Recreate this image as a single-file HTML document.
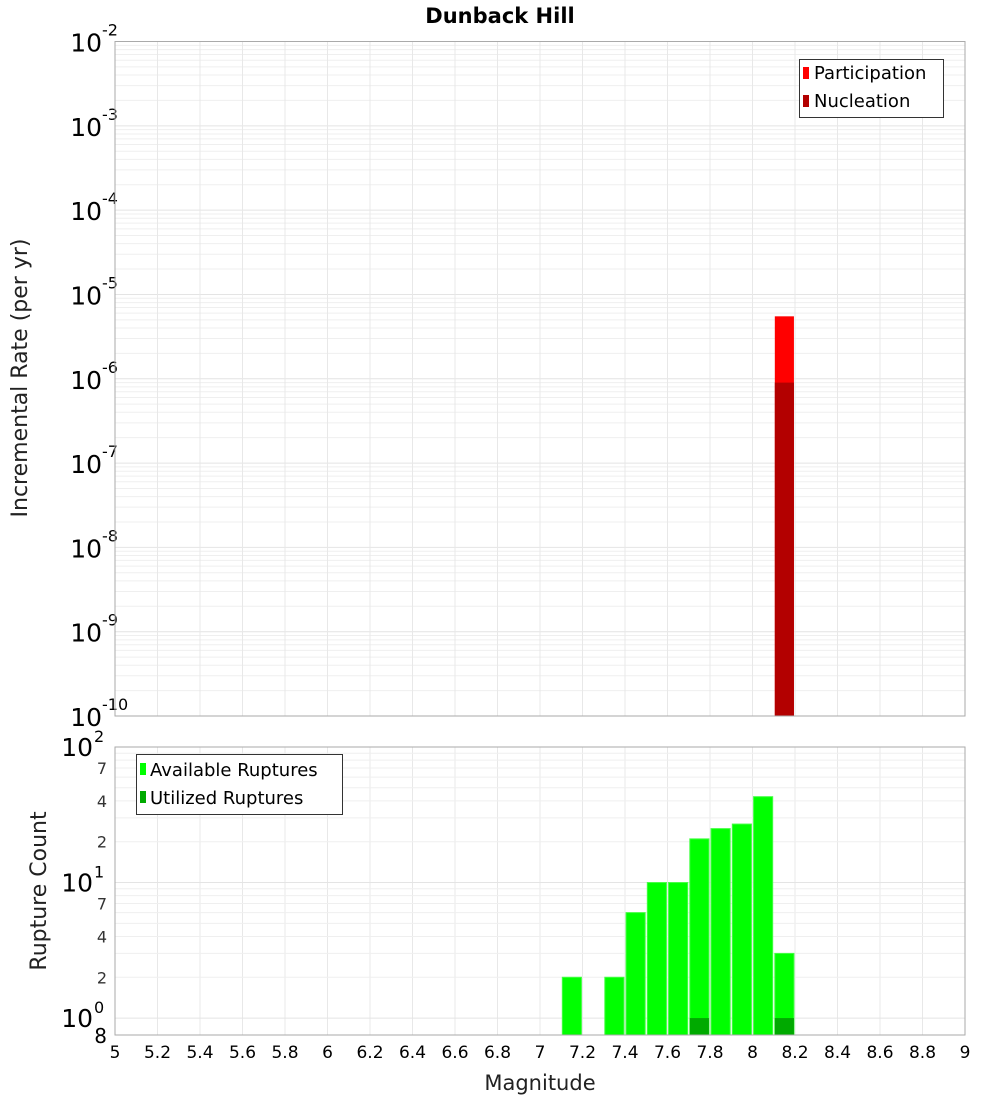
<!DOCTYPE html>
<html><head><meta charset="utf-8"><style>
body{margin:0;background:#fff;}
svg{display:block;font-family:"Liberation Sans","DejaVu Sans",sans-serif;}
</style></head><body>
<svg id="c" width="1000" height="1100" xmlns="http://www.w3.org/2000/svg">
<rect width="1000" height="1100" fill="#fff"/>
<text x="500" y="23" text-anchor="middle" font-size="21" font-weight="bold" font-family="DejaVu Sans, sans-serif">Dunback Hill</text>
<g id="topG"></g>
<g id="botG"></g>
<text transform="translate(27,378) rotate(-90)" text-anchor="middle" font-size="22" font-family="DejaVu Sans, sans-serif" fill="#222">Incremental Rate (per yr)</text>
<text transform="translate(46,891) rotate(-90)" text-anchor="middle" font-size="22" font-family="DejaVu Sans, sans-serif" fill="#222">Rupture Count</text>
<text x="540" y="1090" text-anchor="middle" font-size="21" font-family="DejaVu Sans, sans-serif" fill="#222">Magnitude</text>
<g id="legends">
<g>
<rect x="799.5" y="59.5" width="144" height="58" fill="#fff" stroke="#333"/>
<rect x="803" y="67" width="6" height="12" fill="#ff0000"/>
<text x="814" y="79" font-size="18" font-family="DejaVu Sans, sans-serif">Participation</text>
<rect x="803" y="95" width="6" height="12" fill="#b30000"/>
<text x="814" y="107" font-size="18" font-family="DejaVu Sans, sans-serif">Nucleation</text>
</g>
<g>
<rect x="136.5" y="754.5" width="206" height="60" fill="#fff" stroke="#333"/>
<rect x="140" y="763" width="6" height="12" fill="#00ff00"/>
<text x="150" y="776" font-size="18" font-family="DejaVu Sans, sans-serif">Available Ruptures</text>
<rect x="140" y="791" width="6" height="12" fill="#00aa00"/>
<text x="150" y="804" font-size="18" font-family="DejaVu Sans, sans-serif">Utilized Ruptures</text>
</g>
</g>
</svg>
<script>
const rateMags=[8.15];
const participation=[5.5e-6];
const nucleation=[9e-7];
const countMags=[7.15,7.35,7.45,7.55,7.65,7.75,7.85,7.95,8.05,8.15];
const available=[2,2,6,10,10,21,25,27,43,3];
const utilizedMags=[7.75,8.15];
const utilized=[1,1];
const xTicks=["5","5.2","5.4","5.6","5.8","6","6.2","6.4","6.6","6.8","7","7.2","7.4","7.6","7.8","8","8.2","8.4","8.6","8.8","9"];
const rateExps=[-2,-3,-4,-5,-6,-7,-8,-9,-10];
const countMinor=[2,4,7];

const NS="http://www.w3.org/2000/svg";
const L=115,R=965;
const x=m=>L+(m-5)/4*(R-L);
const T1=41.5,B1=716;
const y1=v=>T1+(-2-Math.log10(v))/8*(B1-T1);
const T2=747,B2=1035,cMax=100,cMin=0.75;
const y2=v=>T2+(Math.log10(cMax)-Math.log10(v))/(Math.log10(cMax)-Math.log10(cMin))*(B2-T2);
function mk(p,tag,a){const e=document.createElementNS(NS,tag);for(const k in a)e.setAttribute(k,a[k]);p.appendChild(e);return e;}
const topG=document.getElementById('topG'),botG=document.getElementById('botG');

for(let e=-10;e<-2;e++){for(let k=2;k<=9;k++){const yy=y1(k*Math.pow(10,e));
const g=mk(topG,'line',{x1:L,x2:R,y1:yy,y2:yy,stroke:'#efefef','stroke-width':1});

}}
rateExps.forEach(e=>{const yy=y1(Math.pow(10,e));
const g=mk(topG,'line',{x1:L,x2:R,y1:yy,y2:yy,stroke:'#e4e4e4'});


const t=mk(topG,'text',{x:L-13,y:yy+10,'text-anchor':'end','font-size':25,'font-family':'DejaVu Sans, sans-serif'});


t.textContent='10';
const s=mk(topG,'text',{x:L-13,y:yy-6,'font-size':16,'font-family':'DejaVu Sans, sans-serif'});


s.textContent=String(e);});
xTicks.forEach(t=>{const xx=x(parseFloat(t));
const g=mk(topG,'line',{x1:xx,x2:xx,y1:T1,y2:B1,stroke:'#e8e8e8'});


const g2=mk(botG,'line',{x1:xx,x2:xx,y1:T2,y2:B2,stroke:'#e8e8e8'});


const tl=mk(botG,'text',{x:xx,y:1058,'text-anchor':'middle','font-size':17,'font-family':'DejaVu Sans, sans-serif'});


tl.textContent=t;});
const bw=0.09;
rateMags.forEach((m,i)=>{
const b=mk(topG,'rect',{x:x(m-bw/2),y:y1(participation[i]),width:x(m+bw/2)-x(m-bw/2),height:B1-y1(participation[i]),fill:'#ff0000'});


const n=mk(topG,'rect',{x:x(m-bw/2),y:y1(nucleation[i]),width:x(m+bw/2)-x(m-bw/2),height:B1-y1(nucleation[i]),fill:'#b30000'});

});
mk(topG,'rect',{x:L,y:T1,width:R-L,height:B1-T1,fill:'none',stroke:'#aaa'});

[1,10].forEach(d=>{for(let k=2;k<=9;k++){const yy=y2(k*d);
const g=mk(botG,'line',{x1:L,x2:R,y1:yy,y2:yy,stroke:'#efefef'});

}
countMinor.forEach(k=>{const t=mk(botG,'text',{x:107,y:y2(k*d)+6,'text-anchor':'end','font-size':16,fill:'#333','font-family':'DejaVu Sans, sans-serif'});


t.textContent=String(k);});});
[[100,'2'],[10,'1'],[1,'0']].forEach(([v,e])=>{const yy=y2(v);
const g=mk(botG,'line',{x1:L,x2:R,y1:yy,y2:yy,stroke:'#e4e4e4'});


const t=mk(botG,'text',{x:L-22,y:yy+9,'text-anchor':'end','font-size':25,'font-family':'DejaVu Sans, sans-serif'});


t.textContent='10';
const s=mk(botG,'text',{x:L-21,y:yy-5,'font-size':16,'font-family':'DejaVu Sans, sans-serif'});


s.textContent=e;});
const e8=mk(botG,'text',{x:107,y:1043,'text-anchor':'end','font-size':20,'font-family':'DejaVu Sans, sans-serif'});


e8.textContent='8';
countMags.forEach((m,i)=>{const b=mk(botG,'rect',{x:x(m-bw/2),y:y2(available[i]),width:x(m+bw/2)-x(m-bw/2),height:B2-y2(available[i]),fill:'#00ff00',stroke:'#44ff44','stroke-width':1});

});
utilizedMags.forEach((m,i)=>{const b=mk(botG,'rect',{x:x(m-bw/2),y:y2(utilized[i]),width:x(m+bw/2)-x(m-bw/2),height:B2-y2(utilized[i]),fill:'#00aa00'});

});
mk(botG,'rect',{x:L,y:T2,width:R-L,height:B2-T2,fill:'none',stroke:'#aaa'});
const svg=document.getElementById('c');svg.appendChild(document.getElementById('legends'));
</script>
</body></html>
